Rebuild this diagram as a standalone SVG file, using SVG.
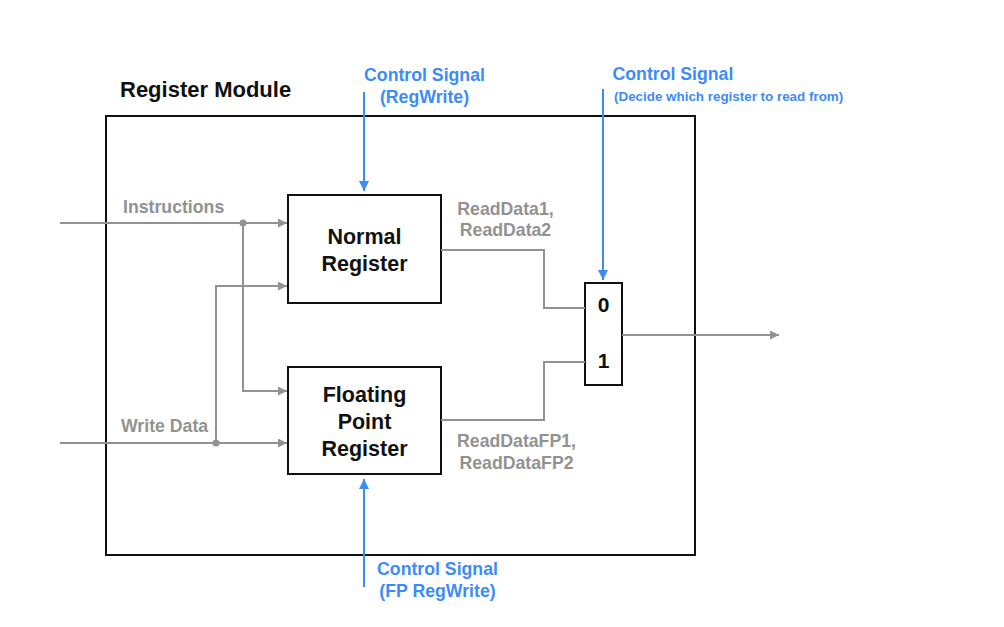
<svg xmlns="http://www.w3.org/2000/svg" width="1004" height="627" viewBox="0 0 1004 627">
<style>
.box{fill:#fff;stroke:#111;stroke-width:2}
.w{fill:none;stroke:#929292;stroke-width:2}
.b{fill:none;stroke:#3d8bf7;stroke-width:2}
.t{font-family:"Liberation Sans",Arial,sans-serif;font-weight:bold}
.g{fill:#929292;font-size:17.7px}
.bl{fill:#3d8bf7}
.k{fill:#111}
</style>
<defs>
<marker id="ag" viewBox="0 0 10 10" refX="10" refY="5" markerWidth="10" markerHeight="9" markerUnits="userSpaceOnUse" orient="auto"><path d="M0,0 L10,5 L0,10 z" fill="#929292"/></marker>
<marker id="ab" viewBox="0 0 10 10" refX="10" refY="5" markerWidth="11" markerHeight="10" markerUnits="userSpaceOnUse" orient="auto"><path d="M0,0 L10,5 L0,10 z" fill="#3d8bf7"/></marker>
</defs>
<rect width="1004" height="627" fill="#fff"/>
<g id="module">
<rect class="box" x="106" y="116" width="589" height="439" fill="none"/>
<text class="t k" x="120" y="97" font-size="22px">Register Module</text>
</g>
<g id="normal-register">
<rect class="box" x="288" y="195" width="153" height="108"/>
<text class="t k" x="364.5" y="244" font-size="21.5px" text-anchor="middle">Normal</text>
<text class="t k" x="364.5" y="271" font-size="21.5px" text-anchor="middle">Register</text>
</g>
<g id="fp-register">
<rect class="box" x="288" y="367" width="153" height="107"/>
<text class="t k" x="364.5" y="402" font-size="21.5px" text-anchor="middle">Floating</text>
<text class="t k" x="364.5" y="429" font-size="21.5px" text-anchor="middle">Point</text>
<text class="t k" x="364.5" y="456" font-size="21.5px" text-anchor="middle">Register</text>
</g>
<g id="mux">
<rect class="box" x="585" y="283" width="37" height="102"/>
<text class="t k" x="603.5" y="312" font-size="21px" text-anchor="middle">0</text>
<text class="t k" x="603.5" y="368" font-size="21px" text-anchor="middle">1</text>
</g>
<g id="connectors">
<line class="w" x1="60" y1="223" x2="287" y2="223" marker-end="url(#ag)"/>
<polyline class="w" points="243,223 243,391 287,391" marker-end="url(#ag)"/>
<line class="w" x1="60" y1="443" x2="287" y2="443" marker-end="url(#ag)"/>
<polyline class="w" points="216,443 216,286 287,286" marker-end="url(#ag)"/>
<circle cx="243" cy="223" r="3.5" fill="#929292"/>
<circle cx="216" cy="443" r="3.5" fill="#929292"/>
<polyline class="w" points="441,250 544,250 544,308 585,308"/>
<polyline class="w" points="441,420 544,420 544,362 585,362"/>
<line class="w" x1="622" y1="335" x2="779" y2="335" marker-end="url(#ag)"/>
<line class="b" x1="364" y1="92" x2="364" y2="191" marker-end="url(#ab)"/>
<line class="b" x1="603" y1="89" x2="603" y2="280" marker-end="url(#ab)"/>
<line class="b" x1="364" y1="587" x2="364" y2="479" marker-end="url(#ab)"/>
</g>
<g id="labels">
<text class="t g" x="123" y="212.5">Instructions</text>
<text class="t g" x="121" y="432">Write Data</text>
<text class="t g" x="505.5" y="215" text-anchor="middle">ReadData1,</text>
<text class="t g" x="505.5" y="236" text-anchor="middle">ReadData2</text>
<text class="t g" x="516.5" y="447" text-anchor="middle">ReadDataFP1,</text>
<text class="t g" x="516.5" y="468.5" text-anchor="middle">ReadDataFP2</text>
<text class="t bl" x="424.5" y="80.5" font-size="17.7px" text-anchor="middle">Control Signal</text>
<text class="t bl" x="424.5" y="102.5" font-size="17.7px" text-anchor="middle">(RegWrite)</text>
<text class="t bl" x="612.5" y="80" font-size="17.7px">Control Signal</text>
<text class="t bl" x="614" y="101" font-size="13.4px">(Decide which register to read from)</text>
<text class="t bl" x="437.5" y="575" font-size="17.7px" text-anchor="middle">Control Signal</text>
<text class="t bl" x="437.5" y="597" font-size="17.7px" text-anchor="middle">(FP RegWrite)</text>
</g>
</svg>
